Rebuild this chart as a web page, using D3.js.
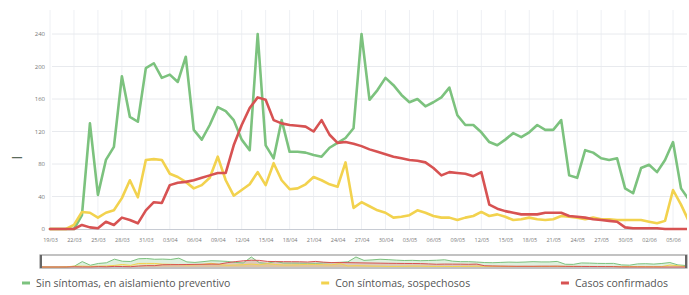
<!DOCTYPE html>
<html>
<head>
<meta charset="utf-8">
<script src="https://cdn.jsdelivr.net/npm/d3@7"></script>
<style>
  body { margin: 0; background: #fff; }
  text { font-family: "Open Sans", sans-serif; }
</style>
</head>
<body>
<svg class="chart" width="689" height="295"></svg>
<script>
// daily values starting 19/03/2020
const startDay = '19/03/2020';
const tickLabels = ['19/03','22/03','25/03','28/03','31/03','03/04','06/04','09/04','12/04','15/04',
  '18/04','21/04','24/04','27/04','30/04','03/05','06/05','09/05','12/05','15/05',
  '18/05','21/05','24/05','27/05','30/05','02/06','05/06'];
const yTicks = [0, 40, 80, 120, 160, 200, 240];

const sinSintomas = [0,0,0,0,17,130,42,85,101,188,
  138,132,198,204,186,190,181,212,122,110,
  128,150,145,134,110,97,240,103,87,134,
  95,95,94,91,89,100,106,112,124,240,
  159,171,186,177,165,156,160,151,156,162,
  174,140,128,128,119,107,103,110,118,113,
  119,128,122,122,134,66,63,97,94,87,
  85,87,50,44,75,79,70,85,107,50,
  36];
const conSintomas = [0,0,0,5,21,20,14,20,23,38,
  60,39,85,86,85,68,64,58,50,54,
  63,89,60,41,48,55,70,54,81,60,
  49,50,55,64,60,55,52,82,26,33,
  28,23,20,14,15,17,23,20,16,14,
  14,11,14,16,21,16,18,15,11,12,
  14,12,11,12,16,15,14,12,14,12,
  12,11,11,11,11,9,7,10,48,30,
  9];
const confirmados = [0,0,0,0,5,2,1,9,5,14,
  11,7,23,33,32,54,57,58,60,63,
  66,69,69,103,128,149,162,159,134,130,
  128,127,126,120,134,116,106,107,105,102,
  98,95,92,89,87,85,84,82,75,66,
  70,69,68,65,70,30,25,22,20,18,
  18,18,20,20,20,16,15,14,12,11,
  10,9,2,1,1,1,1,0,0,0,
  0];

const seriesNames = ['Sin síntomas, en aislamiento preventivo', 'Con síntomas, sospechosos', 'Casos confirmados'];
const seriesColors = ['#7cc27e', '#f2d24e', '#d75252'];

const chart = d3.select('.chart');
const parse = d3.timeParse('%d/%m/%Y');
const t0 = parse(startDay);
const dates = sinSintomas.map((_, i) => d3.timeDay.offset(t0, i));
const tickDates = tickLabels.map(s => parse(s + '/2020'));
const series = [sinSintomas, conSintomas, confirmados];

const plot = { left: 50, right: 687, top: 10, bottom: 229 };

const xScale = d3.scaleTime()
  .domain([dates[0], dates[dates.length - 1]])
  .range([50, 689]);
const yScale = d3.scaleLinear()
  .domain([0, 240])
  .range([plot.bottom, 34]);

chart.append('defs').append('clipPath').attr('id', 'clip')
  .append('rect')
  .attr('x', 46).attr('y', 0)
  .attr('width', plot.right - 46).attr('height', plot.bottom + 3);

// grid
const grid = chart.append('g');
grid.selectAll('.vg').data(tickDates).enter().append('line')
  .attr('x1', d => xScale(d)).attr('x2', d => xScale(d))
  .attr('y1', plot.top).attr('y2', plot.bottom)
  .attr('stroke', '#eef0f4');
grid.selectAll('.hg').data(yTicks.slice(1)).enter().append('line')
  .attr('x1', 52).attr('x2', plot.right)
  .attr('y1', d => yScale(d)).attr('y2', d => yScale(d))
  .attr('stroke', '#e8eaee');

// axes
const yAxis = chart.append('g')
  .attr('transform', 'translate(45,0)')
  .call(d3.axisLeft(yScale).tickValues(yTicks).tickSize(0).tickPadding(0));
yAxis.select('.domain').remove();
yAxis.selectAll('text').attr('font-size', 6).attr('fill', '#777')
  .style('font-family', '"Open Sans", sans-serif');

const xAxis = chart.append('g')
  .attr('transform', `translate(0,${plot.bottom})`)
  .call(d3.axisBottom(xScale).tickValues(tickDates).tickSize(0).tickPadding(9)
    .tickFormat(d3.timeFormat('%d/%m')));
xAxis.select('.domain').remove();
xAxis.selectAll('text').attr('font-size', 5.5).attr('fill', '#777')
  .style('font-family', '"Open Sans", sans-serif');

chart.append('line')
  .attr('x1', 50).attr('x2', plot.right)
  .attr('y1', plot.bottom + 0.5).attr('y2', plot.bottom + 0.5)
  .attr('stroke', '#c8ccd4');

// y axis title
chart.append('text')
  .attr('x', 17).attr('y', 160)
  .attr('text-anchor', 'middle')
  .attr('font-size', 11).attr('font-weight', 'bold')
  .attr('fill', '#5b6b5b')
  .text('—');

// lines
const line = d3.line()
  .x((d, i) => xScale(dates[i]))
  .y(d => yScale(d));

chart.append('g').attr('clip-path', 'url(#clip)')
  .selectAll('path').data(series).enter().append('path')
  .attr('d', line)
  .attr('fill', 'none')
  .attr('stroke', (d, i) => seriesColors[i])
  .attr('stroke-width', 2.6)
  .attr('stroke-linejoin', 'round')
  .attr('stroke-linecap', 'round');

// navigator
const nav = chart.append('g');
const navX = d3.scaleTime().domain(xScale.domain()).range([42, 686]);
const navY = d3.scaleLinear().domain([0, 240]).range([267, 257]);
nav.append('rect')
  .attr('x', 40).attr('y', 255).attr('width', 647).attr('height', 13)
  .attr('fill', '#fff').attr('stroke', '#9a9a9a').attr('stroke-width', 1.2);
const navArea = d3.area()
  .x((d, i) => navX(dates[i]))
  .y0(267).y1(d => navY(d));
const navLine = d3.line()
  .x((d, i) => navX(dates[i]))
  .y(d => navY(d));
nav.selectAll('.na').data(series).enter().append('path')
  .attr('d', navArea)
  .attr('fill', (d, i) => seriesColors[i]).attr('fill-opacity', 0.25);
nav.selectAll('.nl').data(series).enter().append('path')
  .attr('d', navLine)
  .attr('fill', 'none')
  .attr('stroke', (d, i) => seriesColors[i]).attr('stroke-width', 1);
nav.append('line').attr('x1', 41).attr('x2', 41).attr('y1', 255).attr('y2', 268)
  .attr('stroke', '#666').attr('stroke-width', 2);
nav.append('line').attr('x1', 686).attr('x2', 686).attr('y1', 255).attr('y2', 268)
  .attr('stroke', '#666').attr('stroke-width', 2);

// legend spread across the bottom
const legend = chart.append('g');
const items = legend.selectAll('g').data(seriesNames).enter().append('g');
items.append('line')
  .attr('x1', 0).attr('x2', 8).attr('y1', 0).attr('y2', 0)
  .attr('stroke', (d, i) => seriesColors[i]).attr('stroke-width', 3);
items.append('text')
  .attr('x', 14).attr('y', 4)
  .attr('font-size', 10.5).attr('fill', '#555')
  .text(d => d);
const widths = [];
items.each(function () { widths.push(14 + d3.select(this).select('text').node().getComputedTextLength()); });
const legendLeft = 22, legendRight = 668;
const gap = (legendRight - legendLeft - d3.sum(widths)) / (widths.length - 1);
let cx = legendLeft;
items.attr('transform', (d, i) => {
  const x = cx;
  cx += widths[i] + gap;
  return `translate(${x},283)`;
});
</script>
</body>
</html>
